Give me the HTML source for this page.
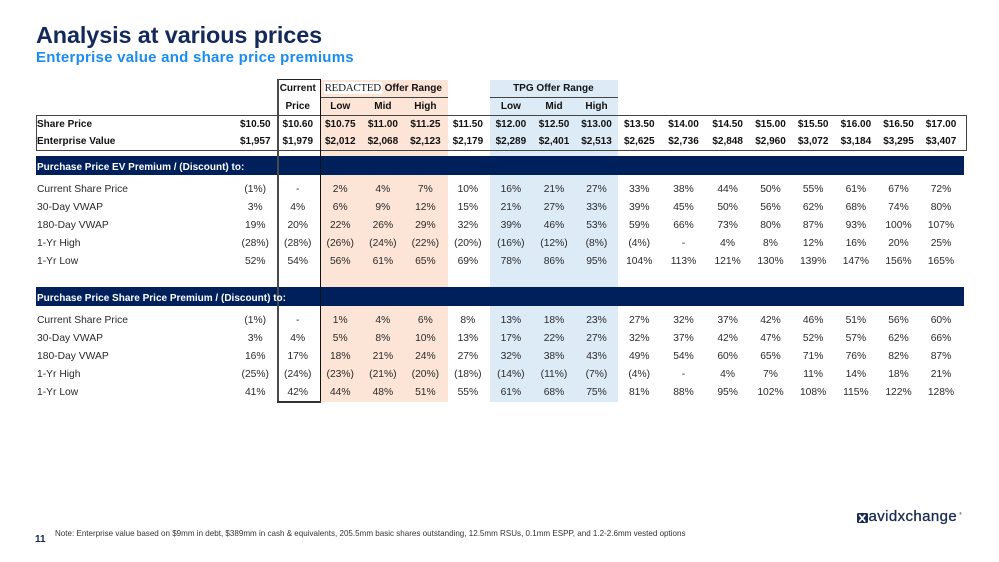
<!DOCTYPE html>
<html><head><meta charset="utf-8"><style>
*{margin:0;padding:0;box-sizing:border-box}
body{width:999px;height:562px;background:#fff;position:relative;overflow:hidden;font-family:"Liberation Sans",Arial,sans-serif;color:#333}
.abs{position:absolute}
.title{left:36px;top:22.6px;font-size:23.4px;line-height:24px;font-weight:bold;color:#12295a;letter-spacing:-0.1px;white-space:nowrap}
.sub{left:36px;top:49.6px;font-size:15px;line-height:15px;font-weight:bold;color:#1a8cf2;letter-spacing:0.25px;white-space:nowrap}
.r{position:absolute;left:36px;height:18px;line-height:18px;display:grid;grid-template-columns:198px 42.5px 42.5px 42.5px 42.75px 42.25px 42.75px 43.25px 43px 42px 43.5px 45px 43.25px 42.5px 42.75px 42.75px 42.5px 42.5px;grid-template-rows:18px;font-size:10.3px;color:#2a2a2a;white-space:nowrap}
.r span{text-align:center}
.r span:first-child{text-align:left;padding-left:1px}
.b{font-weight:bold;font-size:10px;color:#111}
.band{position:absolute;left:36px;width:927.5px;height:19px;background:#00205b}
.bt{position:absolute;left:37px;height:19px;line-height:19px;color:#fff;font-weight:bold;font-size:10px;white-space:nowrap}
.red{font-family:"Liberation Serif",serif;font-weight:normal;font-size:11px;line-height:14px;letter-spacing:-0.3px;background:#fff;padding:0 1px;color:#222}
</style></head><body>
<div class="abs title">Analysis at various prices</div>
<div class="abs sub">Enterprise value and share price premiums</div>

<!-- shading -->
<div class="abs" style="left:320px;top:80px;width:128px;height:322px;background:#fce4d6"></div>
<div class="abs" style="left:490px;top:80px;width:128px;height:322px;background:#ddebf7"></div>
<div class="abs" style="left:320px;top:96.5px;width:128px;height:1px;background:#444"></div>
<div class="abs" style="left:490px;top:96.5px;width:128px;height:1px;background:#444"></div>

<!-- header rows -->
<div class="r b" style="top:80px"><span></span><span></span><span>Current</span><span style="grid-column:4/7"><span class="red">REDACTED</span> Offer Range</span><span style="grid-column:8/11">TPG Offer Range</span></div>
<div class="r b" style="top:98px"><span></span><span></span><span>Price</span><span>Low</span><span>Mid</span><span>High</span><span></span><span>Low</span><span>Mid</span><span>High</span></div>

<!-- share price box -->
<div class="abs" style="left:35.5px;top:114.5px;width:931px;height:36.5px;border:1.5px solid #444"></div>
<div class="r b" style="top:116px"><span>Share Price</span><span>$10.50</span><span>$10.60</span><span>$10.75</span><span>$11.00</span><span>$11.25</span><span>$11.50</span><span>$12.00</span><span>$12.50</span><span>$13.00</span><span>$13.50</span><span>$14.00</span><span>$14.50</span><span>$15.00</span><span>$15.50</span><span>$16.00</span><span>$16.50</span><span>$17.00</span></div>
<div class="r b" style="top:133px"><span>Enterprise Value</span><span>$1,957</span><span>$1,979</span><span>$2,012</span><span>$2,068</span><span>$2,123</span><span>$2,179</span><span>$2,289</span><span>$2,401</span><span>$2,513</span><span>$2,625</span><span>$2,736</span><span>$2,848</span><span>$2,960</span><span>$3,072</span><span>$3,184</span><span>$3,295</span><span>$3,407</span></div>

<div class="band" style="top:156px"></div>
<div class="r" style="top:181.3px"><span>Current Share Price</span><span>(1%)</span><span>-</span><span>2%</span><span>4%</span><span>7%</span><span>10%</span><span>16%</span><span>21%</span><span>27%</span><span>33%</span><span>38%</span><span>44%</span><span>50%</span><span>55%</span><span>61%</span><span>67%</span><span>72%</span></div>
<div class="r" style="top:199px"><span>30-Day VWAP</span><span>3%</span><span>4%</span><span>6%</span><span>9%</span><span>12%</span><span>15%</span><span>21%</span><span>27%</span><span>33%</span><span>39%</span><span>45%</span><span>50%</span><span>56%</span><span>62%</span><span>68%</span><span>74%</span><span>80%</span></div>
<div class="r" style="top:217px"><span>180-Day VWAP</span><span>19%</span><span>20%</span><span>22%</span><span>26%</span><span>29%</span><span>32%</span><span>39%</span><span>46%</span><span>53%</span><span>59%</span><span>66%</span><span>73%</span><span>80%</span><span>87%</span><span>93%</span><span>100%</span><span>107%</span></div>
<div class="r" style="top:234.7px"><span>1-Yr High</span><span>(28%)</span><span>(28%)</span><span>(26%)</span><span>(24%)</span><span>(22%)</span><span>(20%)</span><span>(16%)</span><span>(12%)</span><span>(8%)</span><span>(4%)</span><span>-</span><span>4%</span><span>8%</span><span>12%</span><span>16%</span><span>20%</span><span>25%</span></div>
<div class="r" style="top:252.6px"><span>1-Yr Low</span><span>52%</span><span>54%</span><span>56%</span><span>61%</span><span>65%</span><span>69%</span><span>78%</span><span>86%</span><span>95%</span><span>104%</span><span>113%</span><span>121%</span><span>130%</span><span>139%</span><span>147%</span><span>156%</span><span>165%</span></div>

<div class="band" style="top:287px"></div>
<div class="r" style="top:312.3px"><span>Current Share Price</span><span>(1%)</span><span>-</span><span>1%</span><span>4%</span><span>6%</span><span>8%</span><span>13%</span><span>18%</span><span>23%</span><span>27%</span><span>32%</span><span>37%</span><span>42%</span><span>46%</span><span>51%</span><span>56%</span><span>60%</span></div>
<div class="r" style="top:330.3px"><span>30-Day VWAP</span><span>3%</span><span>4%</span><span>5%</span><span>8%</span><span>10%</span><span>13%</span><span>17%</span><span>22%</span><span>27%</span><span>32%</span><span>37%</span><span>42%</span><span>47%</span><span>52%</span><span>57%</span><span>62%</span><span>66%</span></div>
<div class="r" style="top:348.3px"><span>180-Day VWAP</span><span>16%</span><span>17%</span><span>18%</span><span>21%</span><span>24%</span><span>27%</span><span>32%</span><span>38%</span><span>43%</span><span>49%</span><span>54%</span><span>60%</span><span>65%</span><span>71%</span><span>76%</span><span>82%</span><span>87%</span></div>
<div class="r" style="top:366px"><span>1-Yr High</span><span>(25%)</span><span>(24%)</span><span>(23%)</span><span>(21%)</span><span>(20%)</span><span>(18%)</span><span>(14%)</span><span>(11%)</span><span>(7%)</span><span>(4%)</span><span>-</span><span>4%</span><span>7%</span><span>11%</span><span>14%</span><span>18%</span><span>21%</span></div>
<div class="r" style="top:384px"><span>1-Yr Low</span><span>41%</span><span>42%</span><span>44%</span><span>48%</span><span>51%</span><span>55%</span><span>61%</span><span>68%</span><span>75%</span><span>81%</span><span>88%</span><span>95%</span><span>102%</span><span>108%</span><span>115%</span><span>122%</span><span>128%</span></div>

<!-- current price box -->
<div class="abs" style="left:277px;top:78.5px;width:44px;height:1.5px;background:#222"></div>
<div class="abs" style="left:277px;top:78.5px;width:1.8px;height:324px;background:#4a4a4a"></div>
<div class="abs" style="left:319.5px;top:78.5px;width:1.5px;height:324px;background:#111"></div>
<div class="abs" style="left:277px;top:401px;width:44px;height:1.5px;background:#333"></div>

<!-- band texts on top -->
<div class="bt" style="top:157.5px">Purchase Price EV Premium / (Discount) to:</div>
<div class="bt" style="top:288.5px">Purchase Price Share Price Premium / (Discount) to:</div>

<!-- footer -->
<div class="abs" style="left:35px;top:534px;font-size:10px;line-height:11px;font-weight:bold;color:#12295a">11</div>
<div class="abs" style="left:55px;top:529px;font-size:8.05px;line-height:10px;color:#333;white-space:nowrap">Note: Enterprise value based on $9mm in debt, $389mm in cash &amp; equivalents, 205.5mm basic shares outstanding, 12.5mm RSUs, 0.1mm ESPP, and 1.2-2.6mm vested options</div>

<div class="abs" style="left:857px;top:512.5px;width:10.5px;height:10.5px;background:#1b2c52;border-radius:1.5px">
<svg width="10.5" height="10.5" viewBox="0 0 10 10" style="display:block"><path d="M2.6 2.2 L7.4 7.8 M7.4 2.2 L2.6 7.8" stroke="#fff" stroke-width="1.6" stroke-linecap="round"/></svg></div>
<div class="abs" style="left:868.5px;top:509.3px;font-size:15px;line-height:15px;color:#1b2c52;letter-spacing:0.4px;-webkit-text-stroke:0.3px #1b2c52;white-space:nowrap">avidxchange</div>
<div class="abs" style="left:959px;top:512px;font-size:4px;line-height:4px;color:#1b2c52">®</div>
</body></html>
